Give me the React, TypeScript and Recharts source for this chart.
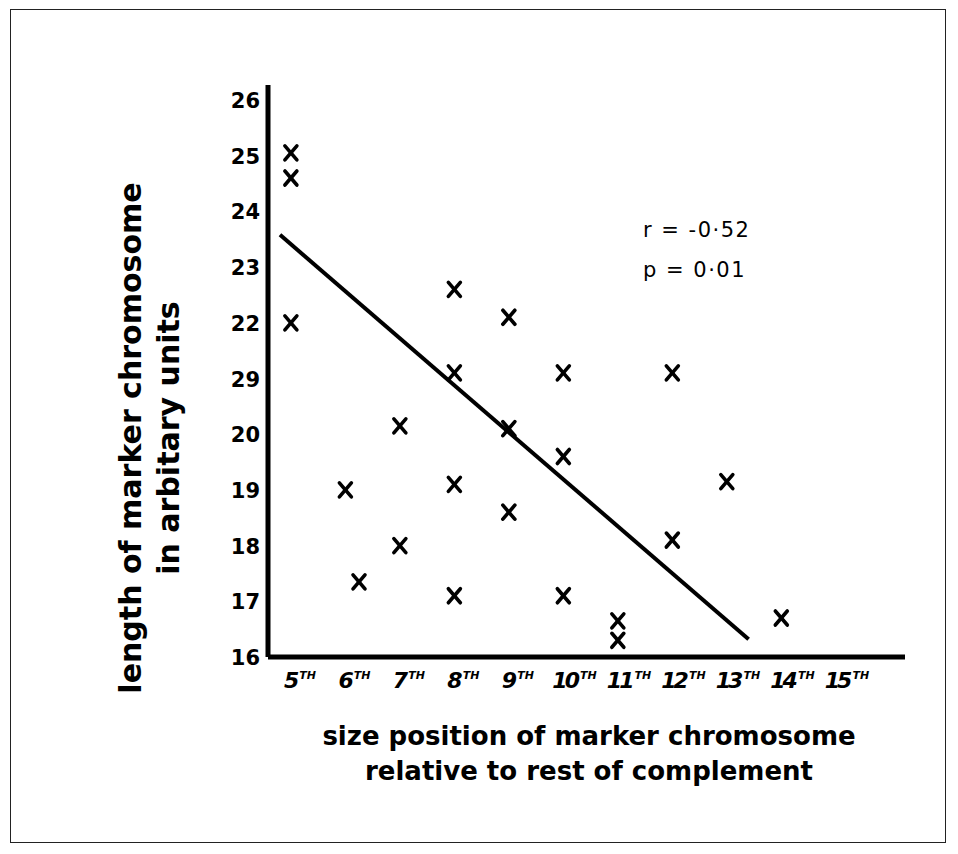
import { ScatterChart, Scatter, XAxis, YAxis } from 'recharts';

// size position (5th..15th) vs marker chromosome length
const positions = [5, 5, 5, 6, 6.25, 7, 7, 8, 8, 8, 8, 9, 9, 9, 10, 10, 10, 11, 11, 12, 12, 13, 14];
const lengths = [25.05, 24.6, 22.0, 19.0, 17.35, 20.15, 18.0, 22.6, 21.1, 19.1, 17.1, 22.1, 20.1, 18.6, 21.1, 19.6, 17.1, 16.65, 16.3, 21.1, 18.1, 19.15, 16.7];

// regression line end points
const fitX = [4.8, 13.4];
const fitY = [23.58, 16.32];

const xTicks = [5, 6, 7, 8, 9, 10, 11, 12, 13, 14, 15];
const yTicks = [16, 17, 18, 19, 20, 21, 22, 23, 24, 25, 26];
const yTickLabels = ['16', '17', '18', '19', '20', '29', '22', '23', '24', '25', '26']; // "29" is as printed

const points = positions.map((x, i) => ({ x, y: lengths[i] }));
const fit = fitX.map((x, i) => ({ x, y: fitY[i] }));

const FONT = '"DejaVu Sans", sans-serif';

const Cross = (props: any) => {
  const { cx, cy } = props;
  if (cx == null || cy == null) return <g />;
  return (
    <g stroke="#000" strokeWidth={3.6} strokeLinecap="round">
      <line x1={cx - 6} y1={cy - 7} x2={cx + 6} y2={cy + 7} />
      <line x1={cx + 6} y1={cy - 7} x2={cx - 6} y2={cy + 7} />
    </g>
  );
};

const XTick = (props: any) => {
  const { x, y, payload } = props;
  const s = String(payload.value);
  const left = s.length > 1 ? x - 11 : x - 7;
  return (
    <text x={left} y={y + 23} fontFamily={FONT} fontWeight="bold" fontStyle="italic" fontSize={22} letterSpacing={s.length > 1 ? -3 : 0} fill="#000">
      <tspan>{s}</tspan>
      <tspan dy={-9} dx={s.length > 1 ? 3 : 0} fontSize={11} letterSpacing={0}>TH</tspan>
    </text>
  );
};

const YTick = (props: any) => {
  const { x, y, payload } = props;
  const idx = yTicks.indexOf(payload.value);
  return (
    <text x={x} y={y + 8} textAnchor="end" fontFamily={FONT} fontWeight="bold" fontSize={21} fill="#000">
      {yTickLabels[idx]}
    </text>
  );
};

export default function App() {
  return (
    <div style={{ position: 'relative', width: 942, height: 838, background: '#fff', fontFamily: FONT }}>
      {/* outer frame */}
      <div style={{ position: 'absolute', left: 2, top: 1, width: 936, height: 834, border: '1.5px solid #222', boxSizing: 'border-box' }} />

      <ScatterChart width={942} height={838} margin={{ top: 77, right: 45, bottom: 149, left: 210 }}>
        <XAxis
          type="number"
          dataKey="x"
          domain={[4.58, 16.27]}
          ticks={xTicks}
          tick={<XTick />}
          tickLine={false}
          axisLine={{ stroke: '#000', strokeWidth: 5 }}
          height={40}
          allowDataOverflow
        />
        <YAxis
          type="number"
          dataKey="y"
          domain={[16, 26.27]}
          ticks={yTicks}
          tick={<YTick />}
          tickLine={false}
          tickMargin={2}
          axisLine={{ stroke: '#000', strokeWidth: 5 }}
          width={50}
          allowDataOverflow
        />
        <Scatter data={fit} line={{ stroke: '#000', strokeWidth: 4 }} shape={() => <g />} isAnimationActive={false} />
        <Scatter data={points} shape={<Cross />} isAnimationActive={false} />
      </ScatterChart>

      {/* statistics */}
      <div style={{ position: 'absolute', left: 635, top: 202, fontSize: 21, letterSpacing: 1.5, lineHeight: '40px', color: '#000' }}>
        <div>r = -0·52</div>
        <div>p = 0·01</div>
      </div>

      {/* y title */}
      <div
        style={{
          position: 'absolute',
          left: 144 - 300,
          top: 430 - 40,
          width: 600,
          height: 80,
          transform: 'rotate(-90deg)',
          textAlign: 'center',
          fontWeight: 'bold',
          fontSize: 30,
          lineHeight: '38px',
          color: '#000',
        }}
      >
        <div>length of marker chromosome</div>
        <div>in arbitary units</div>
      </div>

      {/* x title */}
      <div
        style={{
          position: 'absolute',
          left: 281,
          top: 711,
          width: 600,
          textAlign: 'center',
          fontWeight: 'bold',
          fontSize: 26,
          lineHeight: '35px',
          color: '#000',
        }}
      >
        <div>size position of marker chromosome</div>
        <div>relative to rest of complement</div>
      </div>
    </div>
  );
}
